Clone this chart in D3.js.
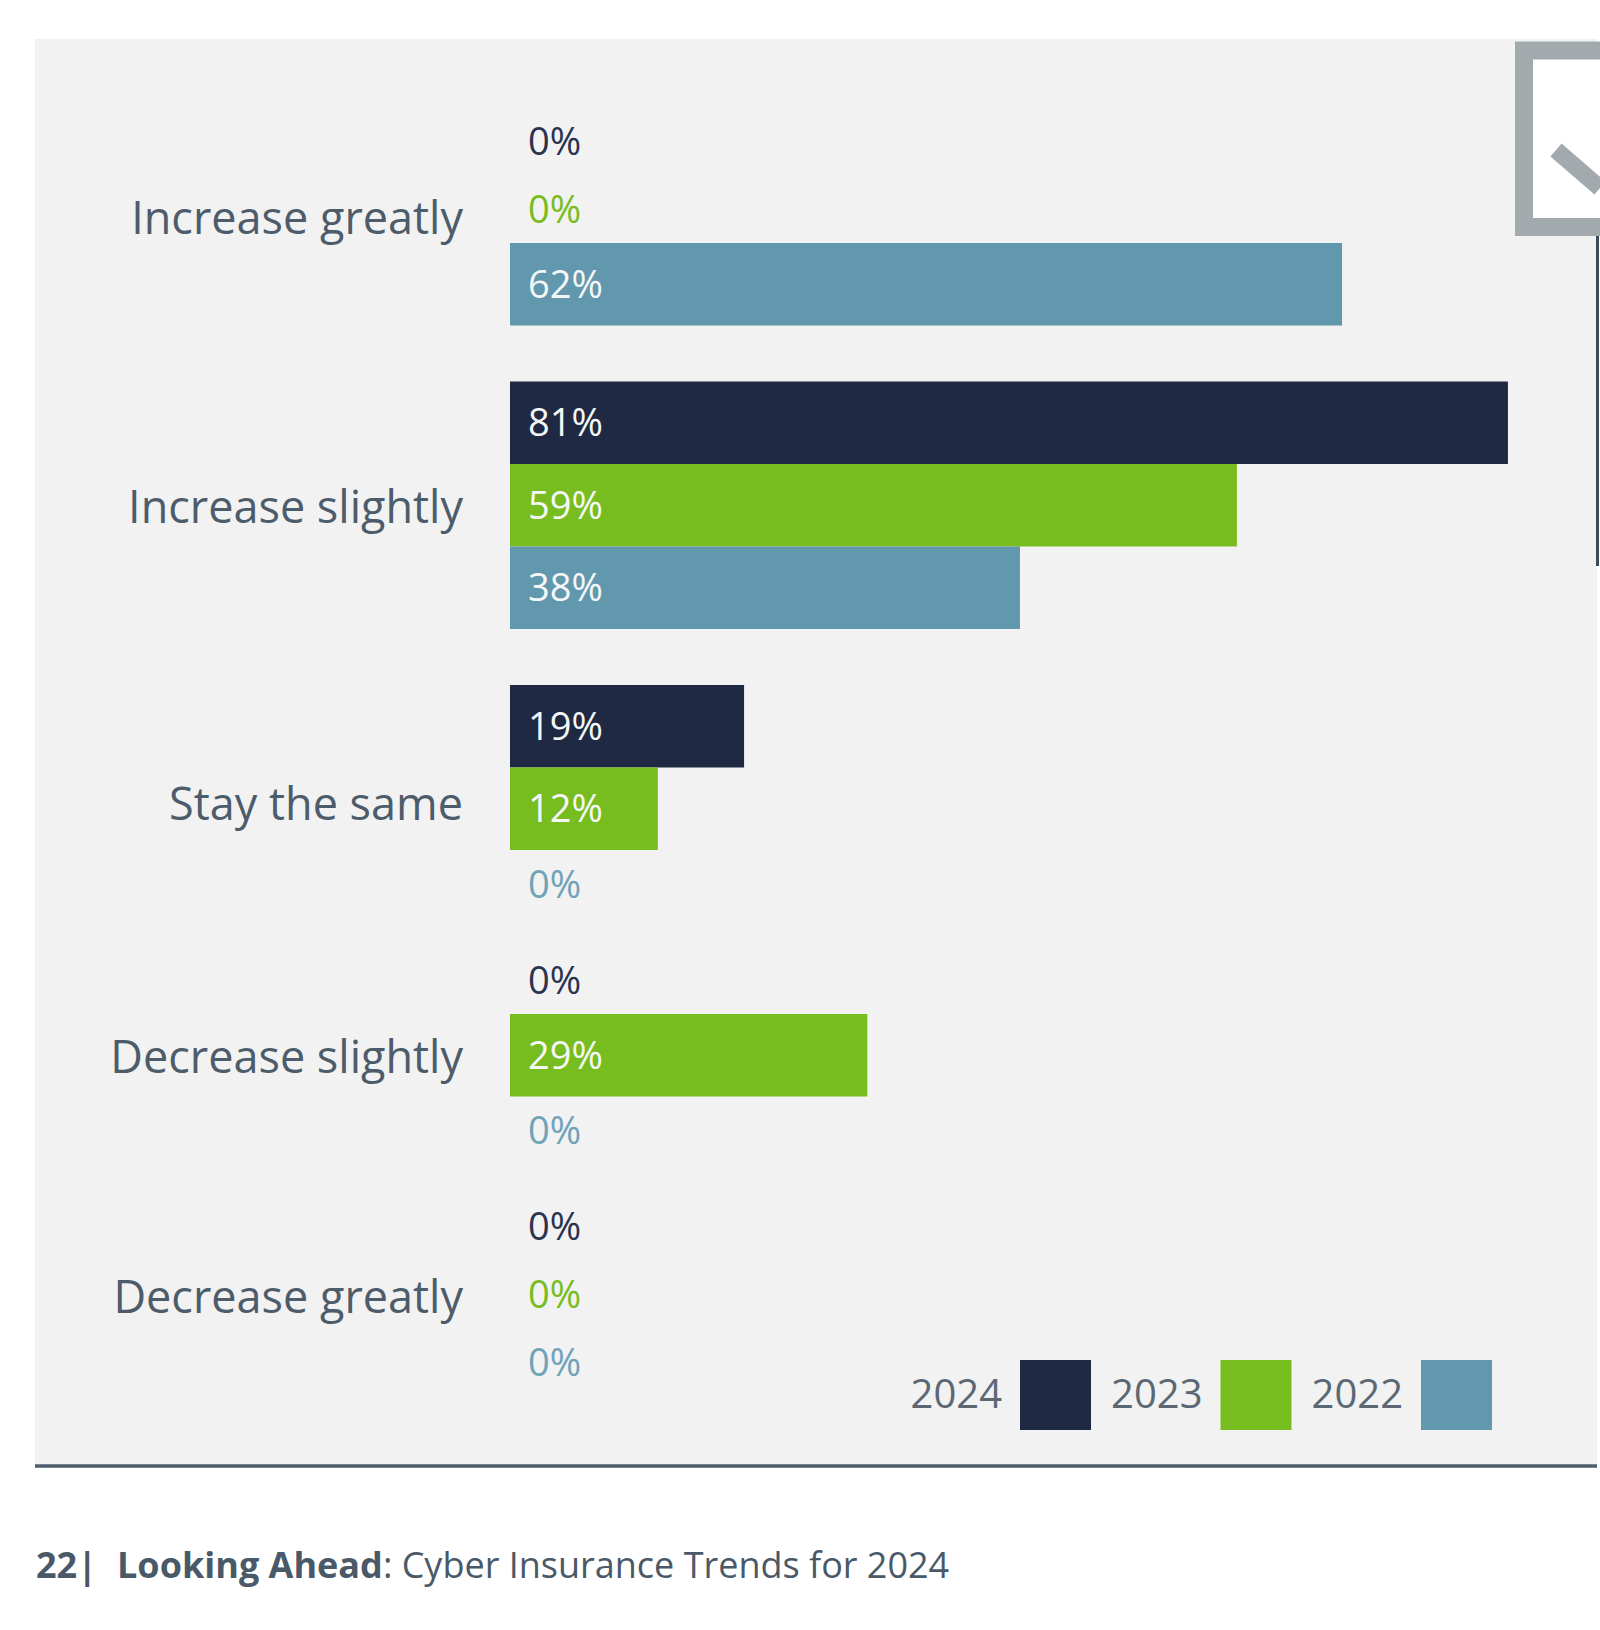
<!DOCTYPE html>
<html>
<head>
<meta charset="utf-8">
<script src="https://cdn.jsdelivr.net/npm/d3@7"></script>
<style>
  html, body { margin: 0; padding: 0; background: #ffffff; }
  svg { display: block; }
  text { font-family: "Open Sans", "Noto Sans", sans-serif; }
</style>
</head>
<body>
<svg id="chart" width="1600" height="1630"></svg>
<script>
// ---- data ----
const categories = ["Increase greatly", "Increase slightly", "Stay the same", "Decrease slightly", "Decrease greatly"];
const seriesNames = ["2024", "2023", "2022"];
const values2024 = [0, 81, 19, 0, 0];
const values2023 = [0, 59, 12, 29, 0];
const values2022 = [62, 38, 0, 0, 0];
const legendLabels = ["2024", "2023", "2022"];
const footerPage = "22|";
const footerBold = "Looking Ahead";
const footerRest = ": Cyber Insurance Trends for 2024";

const seriesValues = [values2024, values2023, values2022];

// ---- styles ----
const colors = { "2024": "#1f2943", "2023": "#78bd20", "2022": "#6198ae" };
const zeroColors = { "2024": "#2a3350", "2023": "#78bd20", "2022": "#6fa3b8" };
const labelColor = "#4d5c6a";

const svg = d3.select("#chart");

// panel
svg.append("rect").attr("x", 35).attr("y", 39).attr("width", 1562).attr("height", 1426).attr("fill", "#f2f2f2");
svg.append("line").attr("x1", 35).attr("x2", 1597).attr("y1", 1466).attr("y2", 1466)
  .attr("stroke", "#4e5d6c").attr("stroke-width", 3.5);

// decorative icon at top right
svg.append("rect").attr("x", 1524).attr("y", 50.5).attr("width", 200).attr("height", 176.5)
  .attr("fill", "#ffffff").attr("stroke", "#a3aaae").attr("stroke-width", 18);
svg.append("line").attr("x1", 1556).attr("y1", 150).attr("x2", 1600).attr("y2", 188)
  .attr("stroke", "#a3aaae").attr("stroke-width", 17);
svg.append("line").attr("x1", 1597.5).attr("x2", 1597.5).attr("y1", 236).attr("y2", 566)
  .attr("stroke", "#3d4a58").attr("stroke-width", 3);

// scales (the 2022 series is drawn on its own, longer scale as in the source)
const x0 = 510;
const xMain = d3.scaleLinear().domain([0, 100]).range([x0, x0 + 1232]);
const x2022 = d3.scaleLinear().domain([0, 100]).range([x0, x0 + 1342]);
const xFor = s => (s === "2022" ? x2022 : xMain);

// layout: rows with a bar are taller than rows with only a "0%" label
const barH = 82.5, zeroH = 68, gapBase = 28, gapBars = 28;
let y = 107;
const rows = [];
const groups = [];
categories.forEach((cat, ci) => {
  if (ci > 0) {
    const prevLast = seriesValues[seriesValues.length - 1][ci - 1] > 0;
    const curFirst = seriesValues[0][ci] > 0;
    y += gapBase + (prevLast && curFirst ? gapBars : 0);
  }
  const gTop = y;
  seriesNames.forEach((s, si) => {
    const v = seriesValues[si][ci];
    const h = v > 0 ? barH : zeroH;
    rows.push({ cat, series: s, value: v, y, h });
    y += h;
  });
  groups.push({ cat, top: gTop, bottom: y });
});

// bars
svg.append("g").selectAll("rect").data(rows.filter(r => r.value > 0)).join("rect")
  .attr("x", r => xFor(r.series)(0))
  .attr("y", r => r.y)
  .attr("width", r => xFor(r.series)(r.value) - xFor(r.series)(0))
  .attr("height", r => r.h)
  .attr("fill", r => colors[r.series]);

// value labels
const valFont = 38;
svg.append("g").selectAll("text").data(rows).join("text")
  .attr("x", x0 + 18)
  .attr("y", r => r.y + r.h / 2 + valFont * 0.357)
  .attr("font-size", valFont)
  .attr("fill", r => r.value > 0 ? "#f5f7f7" : zeroColors[r.series])
  .text(r => r.value + "%");

// category labels
const catFont = 45;
svg.append("g").selectAll("text").data(groups).join("text")
  .attr("x", 463)
  .attr("y", g => (g.top + g.bottom) / 2 + catFont * 0.357 + 2)
  .attr("text-anchor", "end")
  .attr("font-size", catFont)
  .attr("fill", labelColor)
  .text(g => g.cat);

// legend
const leg = svg.append("g");
legendLabels.forEach((l, i) => {
  const sx = 1020 + i * 200.5;
  leg.append("rect").attr("x", sx).attr("y", 1360).attr("width", 71).attr("height", 70).attr("fill", colors[l]);
  leg.append("text").attr("x", sx - 18).attr("y", 1408).attr("text-anchor", "end")
    .attr("font-size", 40).attr("fill", "#5b6874").text(l);
});

// footer
svg.append("text").attr("x", 36).attr("y", 1578).attr("font-size", 36).attr("font-weight", 700)
  .attr("fill", "#4a5968").text(footerPage);
const ft = svg.append("text").attr("x", 117).attr("y", 1578).attr("font-size", 36).attr("fill", "#4a5968");
ft.append("tspan").attr("font-weight", 700).text(footerBold);
ft.append("tspan").text(footerRest);
</script>
</body>
</html>
